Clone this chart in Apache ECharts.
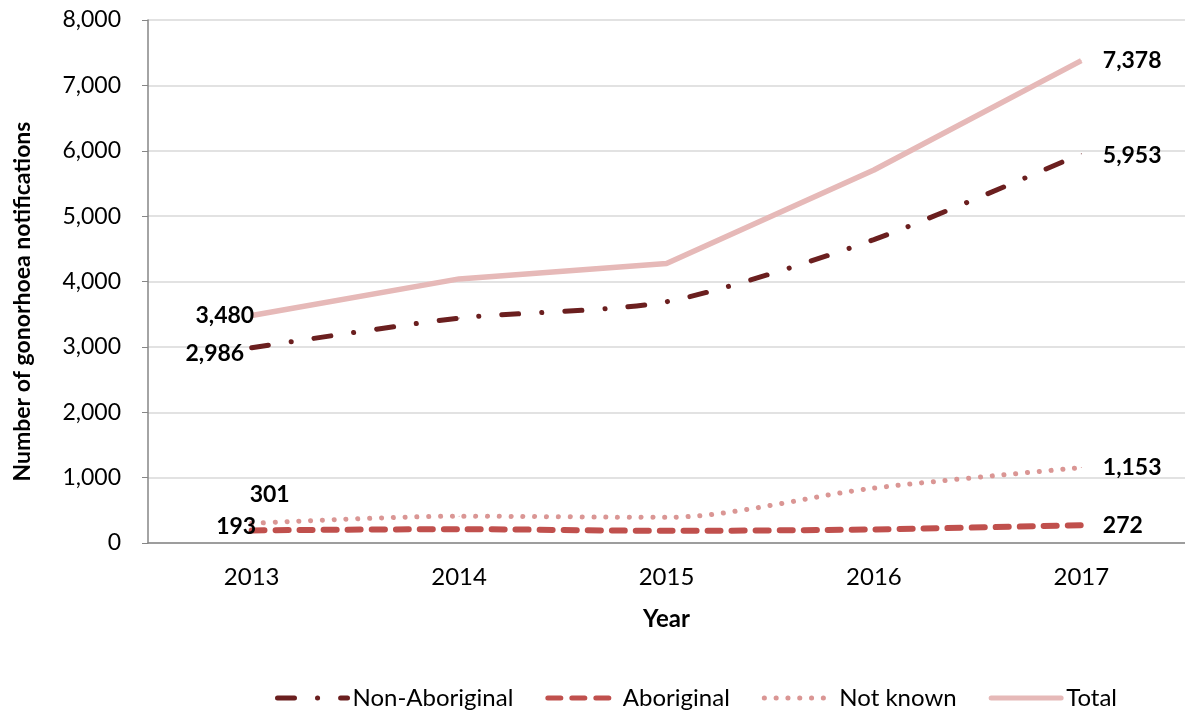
<!DOCTYPE html>
<html>
<head>
<meta charset="utf-8">
<script src="https://cdn.jsdelivr.net/npm/echarts@6/dist/echarts.min.js"></script>
<style>
  html, body { margin: 0; padding: 0; background: #fff; }
  #chart { width: 1185px; height: 715px; }
</style>
</head>
<body>
<div id="chart"></div>
<script>
var years = ['2013', '2014', '2015', '2016', '2017'];
var nonAboriginal = [2986, 3440, 3690, 4640, 5953];
var aboriginal = [193, 212, 186, 208, 272];
var notKnown = [301, 410, 392, 840, 1153];
var total = [3480, 4040, 4275, 5705, 7378];

var font = 'Lato, "Liberation Sans", sans-serif';

// only first and last point get a value label
function withEnds(values, firstLabel, lastLabel) {
  return values.map(function (v, i) {
    var item = { value: v };
    if (i === 0) item.label = firstLabel;
    if (i === values.length - 1) item.label = lastLabel;
    return item;
  });
}

function lbl(pos, offset) {
  return {
    show: true,
    position: pos,
    offset: offset || [0, 0],
    distance: 5,
    fontFamily: font,
    fontWeight: 'bold',
    fontSize: 23,
    color: '#000',
    formatter: function (p) { return p.value.toLocaleString('en-US'); }
  };
}

var dom = document.getElementById('chart');
var myChart = echarts.init(dom, null, { renderer: 'canvas' });

var option = {
  animation: false,
  grid: { left: 148, right: 0, top: 20, bottom: 172 },
  legend: {
    bottom: 0,
    left: 270,
    itemWidth: 70,
    itemHeight: 8,
    itemGap: 32,
    itemStyle: { opacity: 0 },
    lineStyle: { width: 5, cap: 'round' },
    textStyle: { fontFamily: font, fontSize: 24, color: '#000' },
    data: ['Non-Aboriginal', 'Aboriginal', 'Not known', 'Total']
  },
  xAxis: {
    type: 'category',
    data: years,
    name: 'Year',
    nameLocation: 'middle',
    nameGap: 64,
    nameTextStyle: { fontFamily: font, fontWeight: 'bold', fontSize: 24, color: '#000' },
    axisLine: { lineStyle: { color: '#868686', width: 1.5 } },
    axisTick: { length: 7, lineStyle: { color: '#868686' } },
    axisLabel: { margin: 22, fontFamily: font, fontSize: 24, color: '#000' }
  },
  yAxis: {
    type: 'value',
    min: 0,
    max: 8000,
    interval: 1000,
    name: 'Number of gonorhoea notifications',
    nameLocation: 'middle',
    nameGap: 114,
    nameRotate: 90,
    nameTextStyle: {
      fontFamily: font, fontWeight: 'bold', fontSize: 23, color: '#000',
      padding: [0, 40, 0, 0]
    },
    axisLine: { show: true, lineStyle: { color: '#868686', width: 1.5 } },
    axisTick: { show: true, length: 6, lineStyle: { color: '#868686' } },
    axisLabel: {
      margin: 27,
      fontFamily: font,
      fontSize: 23,
      color: '#000',
      formatter: function (v) { return v.toLocaleString('en-US'); }
    },
    splitLine: { lineStyle: { color: '#d9d9d9', width: 1.5 } }
  },
  series: [
    {
      name: 'Non-Aboriginal',
      type: 'line',
      symbol: 'circle',
      symbolSize: 1,
      smooth: 0.25,
      z: 4,
      itemStyle: { color: '#6b1f1f' },
      lineStyle: { color: '#6b1f1f', width: 5, type: [17, 23, 0.1, 23], cap: 'round' },
      data: withEnds(nonAboriginal, lbl('left', [-2, 6]), lbl('right', [16, 2]))
    },
    {
      name: 'Aboriginal',
      type: 'line',
      symbol: 'circle',
      symbolSize: 1,
      smooth: 0.25,
      z: 3,
      itemStyle: { color: '#c0504d' },
      lineStyle: { color: '#c0504d', width: 6, type: [13, 11], cap: 'round' },
      data: withEnds(aboriginal, lbl('left', [10, -4]), lbl('right', [16, 0]))
    },
    {
      name: 'Not known',
      type: 'line',
      symbol: 'circle',
      symbolSize: 1,
      smooth: 0.3,
      z: 2,
      itemStyle: { color: '#da9694' },
      lineStyle: { color: '#da9694', width: 5, type: [0.1, 11.7], cap: 'round' },
      data: withEnds(notKnown, lbl('top', [18, -12]), lbl('right', [16, 0]))
    },
    {
      name: 'Total',
      type: 'line',
      symbol: 'circle',
      symbolSize: 1,
      z: 1,
      itemStyle: { color: '#e6b9b8' },
      lineStyle: { color: '#e6b9b8', width: 5.5 },
      data: withEnds(total, lbl('left', [8, 0]), lbl('right', [16, 0]))
    }
  ]
};

myChart.setOption(option);
window.addEventListener('resize', myChart.resize);
</script>
</body>
</html>
